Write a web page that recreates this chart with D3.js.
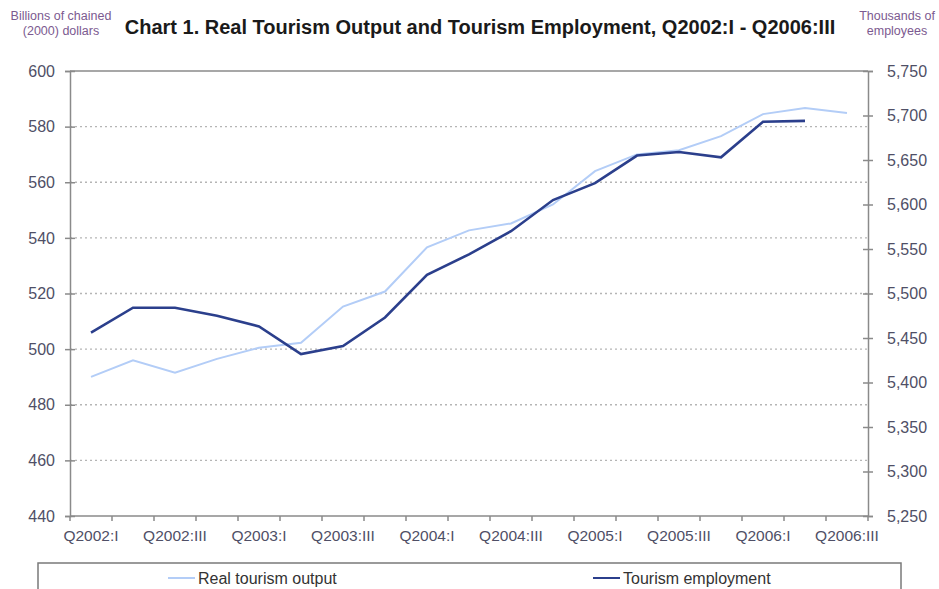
<!DOCTYPE html>
<html>
<head>
<meta charset="utf-8">
<script src="https://cdn.jsdelivr.net/npm/d3@7"></script>
<style>
  body { margin: 0; background: #fff; }
  svg { font-family: "Liberation Sans", Arial, sans-serif; }
</style>
</head>
<body>
<div id="chart"></div>
<script>
// quarters Q2002:I .. Q2006:III
var quarters = ["Q2002:I", "Q2002:II", "Q2002:III", "Q2002:IV",
    "Q2003:I", "Q2003:II", "Q2003:III", "Q2003:IV",
    "Q2004:I", "Q2004:II", "Q2004:III", "Q2004:IV",
    "Q2005:I", "Q2005:II", "Q2005:III", "Q2005:IV",
    "Q2006:I", "Q2006:II", "Q2006:III"];

// only every other quarter gets a label
var shownLabels = ["Q2002:I", "Q2002:III", "Q2003:I", "Q2003:III", "Q2004:I",
    "Q2004:III", "Q2005:I", "Q2005:III", "Q2006:I", "Q2006:III"];

// billions of chained (2000) dollars
var realOutput = [490, 496, 491.5, 496.5, 500.5, 502.3, 515.3, 520.7, 536.6, 542.7,
    545.2, 552, 564, 570, 571.5, 576.6, 584.5, 586.7, 584.9];

// thousands of employees (no value yet for Q2006:III)
var employment = [5456, 5484, 5484, 5475, 5463, 5432, 5441, 5473, 5521, 5544,
    5570, 5605, 5624, 5655, 5659, 5653, 5693, 5694, null];

var leftTicks = [440, 460, 480, 500, 520, 540, 560, 580, 600];
var rightTicks = [5250, 5300, 5350, 5400, 5450, 5500, 5550, 5600, 5650, 5700, 5750];

var W = 939, H = 589,
    margin = {top: 71, right: 71, bottom: 73, left: 70},
    w = W - margin.left - margin.right,
    h = H - margin.top - margin.bottom,
    outputColor = "#b3cdf7",
    employColor = "#2b3f8c",
    axisColor = "#8a8a8a",
    labelColor = "#4f4f66",
    unitColor = "#7c5a90";

var svg = d3.select("#chart").append("svg")
    .attr("width", W)
    .attr("height", H);

var g = svg.append("g")
    .attr("transform", "translate(" + margin.left + "," + margin.top + ")");

var x = d3.scaleBand().domain(quarters).range([0, w]);
var yL = d3.scaleLinear().domain([440, 600]).range([h, 0]);
var yR = d3.scaleLinear().domain([5250, 5750]).range([h, 0]);

function cx(d, i) { return x(quarters[i]) + x.bandwidth() / 2; }

// dotted grid lines
g.selectAll(".grid")
    .data(leftTicks.slice(1, -1))
    .enter().append("line")
    .attr("x1", 0).attr("x2", w)
    .attr("y1", function (d) { return yL(d); })
    .attr("y2", function (d) { return yL(d); })
    .attr("stroke", "#b5b5b5")
    .attr("stroke-width", 1.3)
    .attr("stroke-dasharray", "2,3");

// top border of the plot
g.append("line")
    .attr("x1", 0).attr("x2", w).attr("y1", 0).attr("y2", 0)
    .attr("stroke", axisColor).attr("stroke-width", 1.5);

// left axis
var left = g.append("g")
    .call(d3.axisLeft(yL).tickValues(leftTicks).tickSize(5).tickPadding(10));
left.selectAll("text").attr("fill", labelColor).style("font-size", "16px");

// right axis
var right = g.append("g")
    .attr("transform", "translate(" + w + ",0)")
    .call(d3.axisRight(yR).tickValues(rightTicks).tickSize(5).tickPadding(14)
        .tickFormat(d3.format(",")));
right.selectAll("text").attr("fill", labelColor).style("font-size", "16px");

// bottom axis: ticks on band edges, labels under the points
var bottom = g.append("g")
    .attr("transform", "translate(0," + h + ")");
bottom.append("line")
    .attr("x1", 0).attr("x2", w)
    .attr("stroke", axisColor).attr("stroke-width", 1.5);
bottom.selectAll(".qtick")
    .data(quarters.concat(["end"]))
    .enter().append("line")
    .attr("x1", function (d, i) { return i * x.step(); })
    .attr("x2", function (d, i) { return i * x.step(); })
    .attr("y1", 0).attr("y2", 5)
    .attr("stroke", axisColor).attr("stroke-width", 1.5);
bottom.selectAll(".qlabel")
    .data(shownLabels)
    .enter().append("text")
    .attr("x", function (d) { return x(d) + x.bandwidth() / 2; })
    .attr("y", 25)
    .attr("text-anchor", "middle")
    .attr("fill", labelColor)
    .style("font-size", "15.5px")
    .text(function (d) { return d; });

[left, right].forEach(function (a) {
    a.select(".domain").attr("stroke", axisColor).attr("stroke-width", 1.5);
    a.selectAll(".tick line").attr("stroke", axisColor).attr("stroke-width", 1.5);
});
left.selectAll(".tick line").attr("x2", 5).attr("x1", -5);
right.selectAll(".tick line").attr("x1", -5);

// lines
var outputLine = d3.line()
    .x(cx)
    .y(function (d) { return yL(d); });

var employLine = d3.line()
    .defined(function (d) { return d !== null; })
    .x(cx)
    .y(function (d) { return yR(d); });

g.append("path")
    .attr("d", outputLine(realOutput))
    .attr("fill", "none")
    .attr("stroke", outputColor)
    .attr("stroke-width", 2);

g.append("path")
    .attr("d", employLine(employment))
    .attr("fill", "none")
    .attr("stroke", employColor)
    .attr("stroke-width", 2.6);

// title and unit labels
svg.append("text")
    .attr("x", 480).attr("y", 34)
    .attr("text-anchor", "middle")
    .attr("fill", "#1a1a1a")
    .style("font-size", "20px")
    .style("font-weight", "bold")
    .text("Chart 1. Real Tourism Output and Tourism Employment, Q2002:I - Q2006:III");

svg.append("text")
    .attr("text-anchor", "middle")
    .attr("fill", unitColor).style("font-size", "12.5px")
    .selectAll("tspan")
    .data(["Billions of chained", "(2000) dollars"])
    .enter().append("tspan")
    .attr("x", 61)
    .attr("y", function (d, i) { return 20 + i * 15; })
    .text(function (d) { return d; });

svg.append("text")
    .attr("text-anchor", "middle")
    .attr("fill", unitColor).style("font-size", "12.5px")
    .selectAll("tspan")
    .data(["Thousands of", "employees"])
    .enter().append("tspan")
    .attr("x", 897)
    .attr("y", function (d, i) { return 20 + i * 15; })
    .text(function (d) { return d; });

// legend
var legendKey = [
    {name: "Real tourism output", color: outputColor, x: 168},
    {name: "Tourism employment", color: employColor, x: 593}
];

svg.append("rect")
    .attr("x", 38).attr("y", 563)
    .attr("width", 863).attr("height", 40)
    .attr("fill", "#fff")
    .attr("stroke", "#7a7a7a")
    .attr("stroke-width", 1.5);

var legend = svg.selectAll(".legend")
    .data(legendKey)
    .enter().append("g")
    .attr("transform", function (d) { return "translate(" + d.x + ",578)"; });

legend.append("line")
    .attr("x1", 0).attr("x2", 27)
    .attr("stroke", function (d) { return d.color; })
    .attr("stroke-width", 2);

legend.append("text")
    .attr("x", 30).attr("y", 5.5)
    .attr("fill", "#333")
    .style("font-size", "16px")
    .text(function (d) { return d.name; });
</script>
</body>
</html>
